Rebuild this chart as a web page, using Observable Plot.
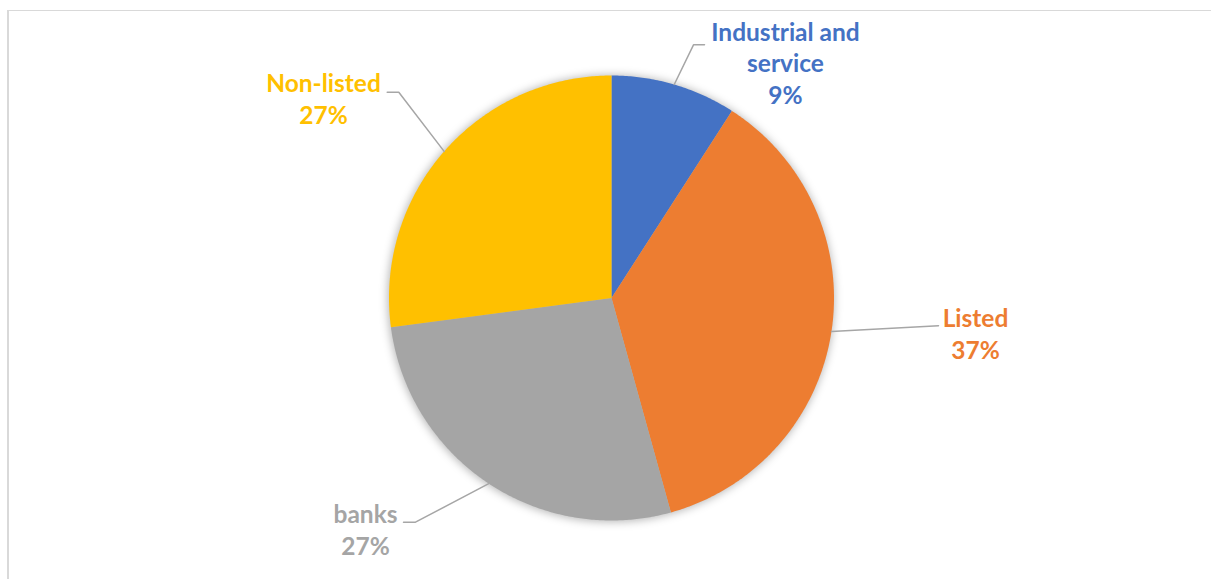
<!DOCTYPE html>
<html><head><meta charset="utf-8">
<script src="https://cdn.jsdelivr.net/npm/d3@7"></script>
<script src="https://cdn.jsdelivr.net/npm/@observablehq/plot@0.6"></script>
<style>
html,body{margin:0;padding:0;background:#fff;overflow:hidden;width:1211px;height:579px}
#frame{position:absolute;left:7px;top:10px;width:1400px;height:800px;border-top:1.5px solid #d9d9d9;border-left:2px solid #d9d9d9;box-sizing:border-box}
#chart{position:absolute;left:0;top:0}
</style></head><body><div id="frame"></div><div id="chart"></div>
<script>
// ---- data ----
const categories = ["Industrial and service", "Listed", "banks", "Non-listed"];
const shares = [9.1, 36.6, 27.2, 27.1];
const colors = ["#4472C4", "#ED7D31", "#A5A5A5", "#FFC000"];

// ---- layout (pixels) ----
const W = 1211, H = 579, cx = 611, cy = 297.5, R = 222.5;
const FONT = 24.5, LINE = 31.7;
// label layout: text centre x, first baseline y, leader elbow and end
const labelLayout = [
  {tx: 785, ty: 40,    elbow: [693, 44.3],  end: [704, 44.3]},
  {tx: 975, ty: 326.7, elbow: [938, 325.3], end: [938, 325.3]},
  {tx: 365, ty: 522.7, elbow: [415, 521.7], end: [403, 521.7]},
  {tx: 323, ty: 91.7,  elbow: [398.3, 91.7], end: [386.7, 91.7]}
];
const ux = px => (px - cx) / R, uy = py => (cy - py) / R;

const total = d3.sum(shares);
const arcs = d3.pie().sort(null).value(d => d)(shares);

const slicePts = [];
arcs.forEach((a, i) => {
  slicePts.push({cat: categories[i], x: 0, y: 0});
  const n = Math.max(2, Math.ceil((a.endAngle - a.startAngle) / (Math.PI / 360)));
  for (let k = 0; k <= n; k++) {
    const t = a.startAngle + (a.endAngle - a.startAngle) * k / n;
    slicePts.push({cat: categories[i], x: Math.sin(t), y: Math.cos(t)});
  }
});

const leaderPts = [];
arcs.forEach((a, i) => {
  const m = (a.startAngle + a.endAngle) / 2;
  const L = labelLayout[i];
  leaderPts.push({cat: categories[i], x: Math.sin(m), y: Math.cos(m)});
  leaderPts.push({cat: categories[i], x: ux(L.elbow[0]), y: uy(L.elbow[1])});
  leaderPts.push({cat: categories[i], x: ux(L.end[0]), y: uy(L.end[1])});
});

function wrap(s, max) {
  const words = s.split(" "), out = [];
  let cur = "";
  for (const w of words) {
    if (cur && (cur + " " + w).length > max) { out.push(cur); cur = w; }
    else cur = cur ? cur + " " + w : w;
  }
  if (cur) out.push(cur);
  return out;
}
const textRows = [];
categories.forEach((c, i) => {
  const lines = [...wrap(c, 14), Math.round(shares[i] / total * 100) + "%"];
  const L = labelLayout[i];
  lines.forEach((t, j) => textRows.push({cat: c, text: t, x: ux(L.tx), y: uy(L.ty + j * LINE)}));
});

const shadow = (index, scales) => {
  const ns = "http://www.w3.org/2000/svg";
  const g = document.createElementNS(ns, "g");
  const defs = document.createElementNS(ns, "defs");
  defs.innerHTML = '<filter id="pieShadow" x="-20%" y="-20%" width="140%" height="140%"><feGaussianBlur stdDeviation="4"/></filter>';
  g.appendChild(defs);
  const c = document.createElementNS(ns, "circle");
  c.setAttribute("cx", scales.x(0));
  c.setAttribute("cy", scales.y(0) + 1);
  c.setAttribute("r", scales.x(1) - scales.x(0) + 1);
  c.setAttribute("fill", "#000");
  c.setAttribute("fill-opacity", "0.28");
  c.setAttribute("filter", "url(#pieShadow)");
  g.appendChild(c);
  return g;
};

const chart = Plot.plot({
  width: W, height: H,
  marginTop: 0, marginRight: 0, marginBottom: 0, marginLeft: 0,
  x: {domain: [ux(0), ux(W)], range: [0, W], axis: null},
  y: {domain: [uy(H), uy(0)], range: [H, 0], axis: null},
  color: {domain: categories, range: colors},
  style: {background: "transparent", fontFamily: "Lato, 'Noto Sans', sans-serif"},
  marks: [
    shadow,
    Plot.line(slicePts, {x: "x", y: "y", z: "cat", fill: "cat", stroke: "none", curve: "linear-closed"}),
    Plot.line(leaderPts, {x: "x", y: "y", z: "cat", stroke: "#a6a6a6", strokeWidth: 1.5, curve: "linear"}),
    Plot.text(textRows, {x: "x", y: "y", text: "text", fill: "cat", fontSize: FONT, fontWeight: "bold", textAnchor: "middle", lineAnchor: "bottom"})
  ]
});
document.getElementById("chart").appendChild(chart);
</script></body></html>
